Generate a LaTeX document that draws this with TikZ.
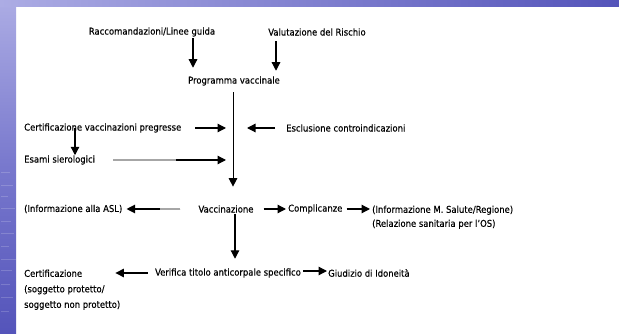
\documentclass[tikz,border=0pt]{standalone}
\usepackage{fontspec}
\setmainfont{DejaVu Sans Condensed}[BoldFont={DejaVu Sans Condensed},BoldFeatures={FakeBold=0.3}]
\usetikzlibrary{arrows.meta}

\definecolor{lavanda}{RGB}{172,172,228}
\definecolor{bluscuro}{RGB}{84,84,186}
\definecolor{blumedio}{RGB}{120,120,205}

\begin{document}
\begin{tikzpicture}[x=1pt,y=-1pt,
    every node/.style={inner sep=0pt,font=\fontsize{9.4}{15.5}\selectfont\bfseries},
    freccia/.style={-{Triangle[length=8.5pt,width=8.5pt]},line width=1.2pt},
    grigio/.style={line width=1.3pt,black!35}]
        % sfondo della diapositiva
        \useasboundingbox (0,0) rectangle (619,334);
        \fill[white] (0,0) rectangle (619,334);
        \shade[top color=lavanda,bottom color=bluscuro,middle color=blumedio] (0,0) rectangle (16,334);
        \foreach \y/\l in {172/9,185/12,196/7,208/14,221/10,233/13,246/8,259/15,270/11,284/9,297/12,311/8}
            \draw[white,opacity=.18,line width=.7pt] (1,\y) -- ++(\l,0);
        \shade[left color=lavanda,right color=bluscuro] (0,0) rectangle (619,7);

        % testi
        \node (racc) at (152,32) {Raccomandazioni/Linee guida};
        \node (valu) at (317,32) {Valutazione del Rischio};
        \node (prog) at (234,81) {Programma vaccinale};
        \node[anchor=west] (cert) at (24,128) {Certificazione vaccinazioni pregresse};
        \node[anchor=west] (escl) at (286,128) {Esclusione controindicazioni};
        \node[anchor=west] (esami) at (24,160) {Esami sierologici};
        \node (vacc) at (226,209) {Vaccinazione};
        \node[anchor=west] (asl) at (24,209) {(Informazione alla ASL)};
        \node[anchor=west] (compl) at (288,209) {Complicanze};
        \node[anchor=north west,align=left,font=\fontsize{9.4}{14}\selectfont\bfseries] (info) at (372,205.5)
            {(Informazione M. Salute/Regione)\\(Relazione sanitaria per l'OS)};
        \node (veri) at (228,273) {Verifica titolo anticorpale specifico};
        \node[anchor=north west,align=left] (certif) at (24,269.5)
            {Certificazione\\(soggetto protetto/\\soggetto non protetto)};
        \node[anchor=west] (giud) at (328,273) {Giudizio di Idoneità};

        % asse centrale
        \coordinate (t1) at (prog.south |- cert.east);
        \coordinate (t2) at (prog.south |- esami.east);
        \coordinate (t3) at (prog.south |- vacc.north);

        % frecce
        \draw[freccia] ([xshift=41pt,yshift=-1.5pt]racc.south) -- ([xshift=-41pt,yshift=8.5pt]prog.north);
        \draw[freccia] ([xshift=-41pt,yshift=-5.5pt]valu.south) -- ([xshift=42pt,yshift=5.5pt]prog.north);
        \draw[-{Triangle[length=8.5pt,width=8.5pt]},line width=1pt] ([xshift=-1pt,yshift=-6.5pt]prog.south)
            -- ([xshift=-1pt,yshift=18.5pt]t3);
        \draw[freccia] ([xshift=14pt]cert.east) -- ([xshift=-8pt]t1);
        \draw[freccia] ([xshift=-11pt]escl.west) -- ([xshift=13pt]t1);
        \draw[freccia] ([xshift=51pt]cert.west) -- ([xshift=51pt]esami.north west);
        \draw[freccia] ([xshift=18pt]esami.east) -- ([xshift=-8pt]t2);
        \draw[grigio] ([xshift=18pt]esami.east) -- ([xshift=81pt]esami.east);
        \draw[freccia] ([xshift=-18pt]vacc.west) -- ([xshift=4pt]asl.east);
        \draw[grigio] ([xshift=-18pt]vacc.west) -- ([xshift=-38pt]vacc.west);
        \draw[freccia] ([xshift=10pt]vacc.east) -- ([xshift=-2pt]compl.west);
        \draw[freccia] ([xshift=4pt]compl.east) -- ([xshift=-2pt]compl.east -| info.west);
        \draw[freccia] ([xshift=9pt,yshift=-1.5pt]vacc.south) -- ([xshift=9pt,yshift=9.5pt]veri.north -| vacc.south);
        \draw[freccia] ([xshift=-7pt]veri.west) -- ([xshift=-5pt]veri.west -| certif.east);
        \draw[freccia] ([xshift=2pt,yshift=2pt]veri.east) -- ([xshift=-1pt,yshift=2pt]giud.west);
    \end{tikzpicture}
\end{document}
